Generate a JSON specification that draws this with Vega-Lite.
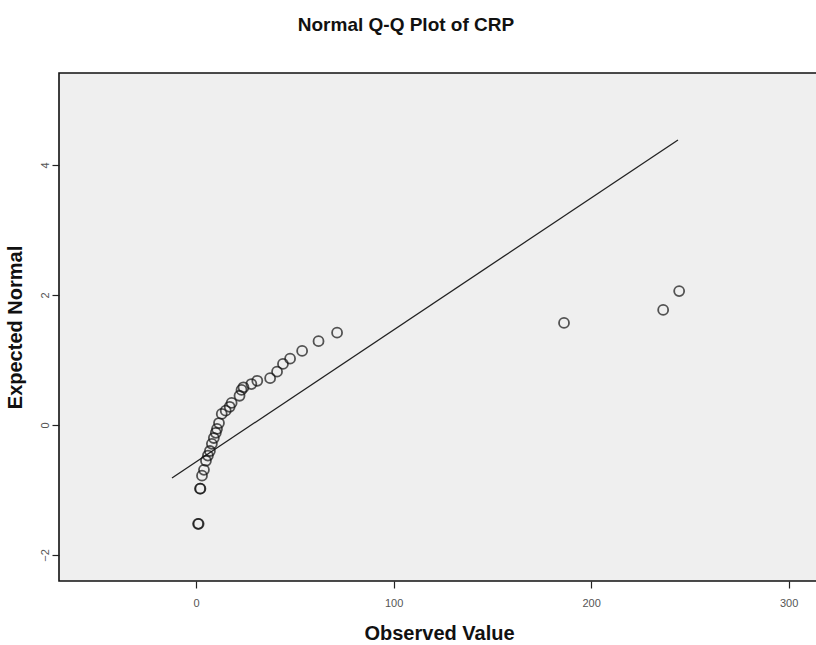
{
  "$schema": "https://vega.github.io/schema/vega-lite/v6.json",
  "autosize": "none",
  "width": 760,
  "height": 508,
  "padding": {"left": 59, "top": 73, "right": 0, "bottom": 64},
  "background": "white",
  "title": {"text": "Normal Q-Q Plot of CRP", "font": "Liberation Sans", "fontSize": 19, "fontWeight": "bold", "color": "#111", "offset": 38, "dx": -33},
  "config": {
    "view": {"fill": "#efefef", "stroke": "#111", "strokeWidth": 1.6},
    "axis": {"domain": false, "grid": false, "labelFont": "Liberation Sans", "titleFont": "Liberation Sans", "labelColor": "#555", "labelFontSize": 11, "tickColor": "#222", "tickSize": 7, "tickWidth": 1.2, "titleFontSize": 20, "titleFontWeight": "bold", "titleColor": "#111"}
  },
  "datasets": {
    "pts": [
      {"obs": 1, "exp": -1.52}, {"obs": 1.3, "exp": -1.52},
      {"obs": 2, "exp": -0.98}, {"obs": 2.2, "exp": -0.98},
      {"obs": 3, "exp": -0.78}, {"obs": 4, "exp": -0.69},
      {"obs": 5, "exp": -0.55}, {"obs": 6, "exp": -0.47},
      {"obs": 7, "exp": -0.4}, {"obs": 8, "exp": -0.29},
      {"obs": 9, "exp": -0.2}, {"obs": 10, "exp": -0.12},
      {"obs": 10.6, "exp": -0.06}, {"obs": 11.6, "exp": 0.03},
      {"obs": 13, "exp": 0.17}, {"obs": 15, "exp": 0.22},
      {"obs": 17, "exp": 0.28}, {"obs": 18, "exp": 0.34},
      {"obs": 22, "exp": 0.45}, {"obs": 23, "exp": 0.54},
      {"obs": 24, "exp": 0.58}, {"obs": 28, "exp": 0.63},
      {"obs": 31, "exp": 0.68}, {"obs": 37.5, "exp": 0.72},
      {"obs": 41, "exp": 0.82}, {"obs": 44, "exp": 0.94},
      {"obs": 47.6, "exp": 1.02}, {"obs": 53.7, "exp": 1.14},
      {"obs": 62, "exp": 1.29}, {"obs": 71.4, "exp": 1.42},
      {"obs": 186.3, "exp": 1.57}, {"obs": 236.5, "exp": 1.77},
      {"obs": 244.6, "exp": 2.06}
    ],
    "ref": [
      {"obs": -12.2, "exp": -0.815},
      {"obs": 244, "exp": 4.385}
    ]
  },
  "layer": [
    {
      "data": {"name": "ref"},
      "mark": {"type": "line", "color": "#222", "strokeWidth": 1.3},
      "encoding": {
        "x": {"field": "obs", "type": "quantitative", "scale": {"domain": [-69.4, 315.4], "nice": false, "zero": false},
              "axis": {"values": [0, 100, 200, 300], "format": "d", "title": "Observed Value", "labelPadding": 9, "titlePadding": 15}},
        "y": {"field": "exp", "type": "quantitative", "scale": {"domain": [-2.4, 5.415], "nice": false, "zero": false},
              "axis": {"values": [-2, 0, 2, 4], "format": "d", "title": "Expected Normal", "labelAngle": 270, "labelAlign": "center", "labelBaseline": "bottom", "labelPadding": 2, "titlePadding": 14}}
      }
    },
    {
      "data": {"name": "pts"},
      "mark": {"type": "point", "shape": "circle", "filled": false, "color": "#111", "size": 100, "strokeWidth": 1.8},
      "encoding": {
        "x": {"field": "obs", "type": "quantitative"},
        "y": {"field": "exp", "type": "quantitative"}
      }
    }
  ]
}
